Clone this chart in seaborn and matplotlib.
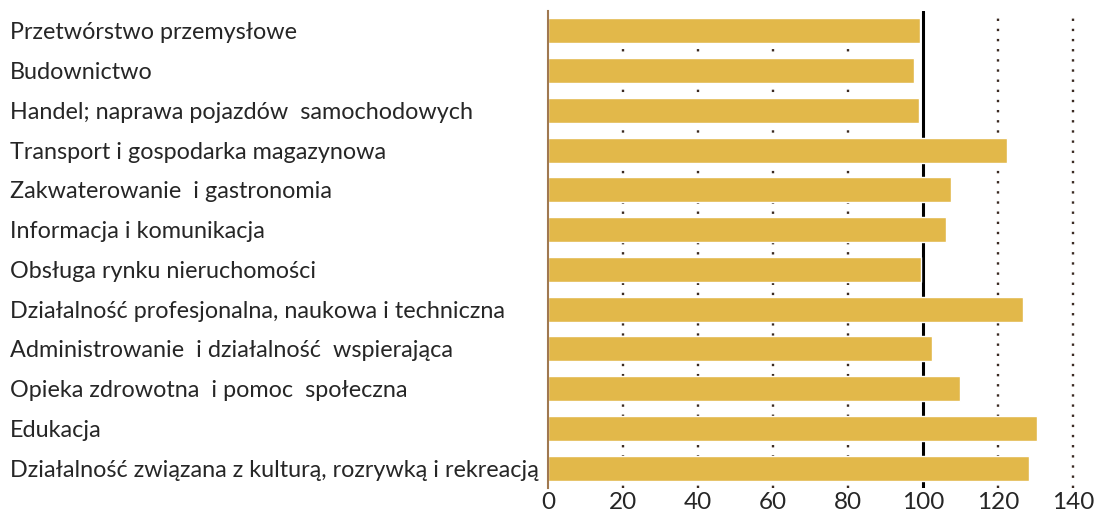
import matplotlib
matplotlib.use("Agg")
import matplotlib.pyplot as plt
import seaborn as sns
import pandas as pd

categories = [
    "Przetwórstwo przemysłowe",
    "Budownictwo",
    "Handel; naprawa pojazdów  samochodowych",
    "Transport i gospodarka magazynowa",
    "Zakwaterowanie  i gastronomia",
    "Informacja i komunikacja",
    "Obsługa rynku nieruchomości",
    "Działalność profesjonalna, naukowa i techniczna",
    "Administrowanie  i działalność  wspierająca",
    "Opieka zdrowotna  i pomoc  społeczna",
    "Edukacja",
    "Działalność związana z kulturą, rozrywką i rekreacją",
]
values = [99.1, 97.5, 98.8, 122.3, 107.5, 106.2, 99.4, 126.5, 102.3, 109.9, 130.4, 128.2]
x_ticks = [0, 20, 40, 60, 80, 100, 120, 140]
reference_value = 100

df = pd.DataFrame({"category": categories, "value": values})

sns.set_theme(style="white")
plt.rcParams["font.family"] = ["Lato", "DejaVu Sans"]

fig = plt.figure(figsize=(11, 5.19), dpi=100)
ax = fig.add_axes([548 / 1100, 1 - 488 / 519, (1092 - 548) / 1100, (488 - 11) / 519])

sns.barplot(data=df, x="value", y="category", orient="h", color="#E2B84A",
            saturation=1, width=0.63, ax=ax, zorder=3)

for t in x_ticks[1:]:
    if t == reference_value:
        ax.axvline(t, color="black", lw=2.2, zorder=2)
    else:
        ax.axvline(t, color="#3a2a22", lw=1.7, ls=(0, (1, 3.3)), zorder=1)

ax.set_xlim(0, 145)
ax.set_ylim(11.5, -0.5)
ax.set_xticks(x_ticks)
ax.set_xticklabels([str(v) for v in x_ticks], fontsize=17.5)
ax.set_yticks(range(len(categories)))
ax.set_yticklabels(categories, ha="left", fontsize=16.8)
ax.tick_params(axis="y", pad=(548 - 10) * 72 / 100, length=0)
ax.tick_params(axis="x", length=0, pad=3)
ax.set_xlabel("")
ax.set_ylabel("")

for s in ["top", "right", "bottom"]:
    ax.spines[s].set_visible(False)
ax.spines["left"].set_color("#A07850")
ax.spines["left"].set_linewidth(1.5)
ax.spines["left"].set_zorder(4)

fig.savefig("out.png", dpi=100)
